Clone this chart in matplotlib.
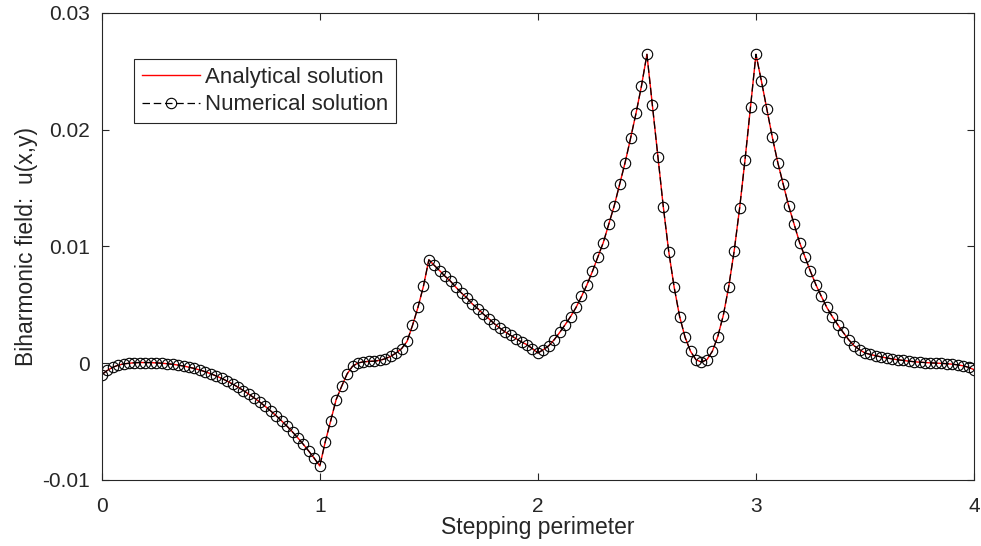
import numpy as np
import matplotlib as mpl
mpl.use('Agg')
import matplotlib.pyplot as plt

plt.rcParams['font.family'] = ['Liberation Sans', 'DejaVu Sans']

# stepping parameter along the perimeter (step 0.025)
s = np.linspace(0, 4, 161)

# side 1 : 0 -> 1
side1 = [-0.00098, -0.00062, -0.00035, -0.00017, -0.00006, 0.00000, 0.00004, 0.00006,
         0.00006, 0.00005, 0.00003, 0.00000, -0.00004, -0.00009, -0.00016, -0.00024,
         -0.00034, -0.00045, -0.00058, -0.00073, -0.00090, -0.00109, -0.00130, -0.00153,
         -0.00178, -0.00205, -0.00234, -0.00265, -0.00298, -0.00333, -0.00370, -0.00409,
         -0.00450, -0.00494, -0.00540, -0.00589, -0.00641, -0.00696, -0.00754, -0.00815,
         -0.00880]
# side 2 : 1.025 -> 2
side2 = [-0.00673, -0.00491, -0.00311, -0.00198, -0.00092, -0.00026, 0.00002, 0.00012,
         0.00016, 0.00018, 0.00025, 0.00039, 0.00059, 0.00088, 0.00125, 0.00187,
         0.00324, 0.00478, 0.00658, 0.00886,
         0.00838, 0.00792, 0.00744, 0.00701, 0.00649, 0.00601, 0.00559, 0.00507,
         0.00467, 0.00421, 0.00382, 0.00339, 0.00302, 0.00268, 0.00239, 0.00210,
         0.00182, 0.00159, 0.00125, 0.00088]
# side 3 : 2.025 -> 3
side3 = [0.00116, 0.00150, 0.00202, 0.00264, 0.00330, 0.00400, 0.00478, 0.00572,
         0.00672, 0.00786, 0.00909, 0.01034, 0.01192, 0.01348, 0.01534, 0.01719,
         0.01927, 0.02141, 0.02375, 0.02646,
         0.02212, 0.01770, 0.01342, 0.00957, 0.00650, 0.00400, 0.00222, 0.00102,
         0.00030, 0.00010, 0.00030, 0.00102, 0.00229, 0.00408, 0.00655, 0.00960,
         0.01328, 0.01745, 0.02193, 0.02646]
# side 4 : 3.025 -> 4
side4 = [0.02417, 0.02175, 0.01936, 0.01719, 0.01534, 0.01348, 0.01192, 0.01034,
         0.00909, 0.00786, 0.00672, 0.00572, 0.00478, 0.00400, 0.00330, 0.00264,
         0.00202, 0.00150, 0.00116, 0.00088,
         0.00075, 0.00064, 0.00054, 0.00045, 0.00037, 0.00030, 0.00024, 0.00018,
         0.00013, 0.00009, 0.00006, 0.00003, 0.00001, -0.00001, -0.00004, -0.00008,
         -0.00014, -0.00022, -0.00035, -0.00055]

u_analytical = np.array(side1 + side2 + side3 + side4)
u_numerical = u_analytical.copy()   # the two curves sit on top of each other

dark = '#262626'

fig = plt.figure(figsize=(9.81, 5.46), dpi=100)
ax = fig.add_axes([0.1037, 0.1209, 0.8892, 0.8553])

ax.plot(s, u_analytical, '-', color='red', lw=1.0, label='Analytical solution')
ax.plot(s, u_numerical, '--', color='black', lw=0.9, marker='o', ms=7.5,
        mfc='none', mec='black', mew=0.8, dashes=(6, 3), label='Numerical solution')

ax.set_xlim(0, 4)
ax.set_ylim(-0.01, 0.03)
ax.set_xticks([0, 1, 2, 3, 4])
ax.set_xticklabels(['0', '1', '2', '3', '4'])
ax.set_yticks([-0.01, 0, 0.01, 0.02, 0.03])
ax.set_yticklabels(['-0.01', '0', '0.01', '0.02', '0.03'])
ax.tick_params(direction='in', top=True, right=True, length=5, width=0.8,
               colors=dark, labelsize=15)
ax.tick_params(axis='x', pad=12)
ax.tick_params(axis='y', pad=8.5)
for sp in ax.spines.values():
    sp.set_color(dark)
    sp.set_linewidth(0.8)

ax.set_xlabel('Stepping perimeter', fontsize=16.5, color=dark, labelpad=0)
ax.set_ylabel('Biharmonic field:  u(x,y)', fontsize=16.5, color=dark, labelpad=3)

leg = ax.legend(loc='upper left', bbox_to_anchor=(0.037, 0.9015), borderaxespad=0,
                fontsize=16, handlelength=2.6, handletextpad=0.25, borderpad=0.35,
                labelspacing=0.3, fancybox=False, framealpha=1, edgecolor=dark)
leg.get_frame().set_linewidth(0.8)
for t in leg.get_texts():
    t.set_color(dark)

plt.savefig('out.png', dpi=100)
plt.close()
